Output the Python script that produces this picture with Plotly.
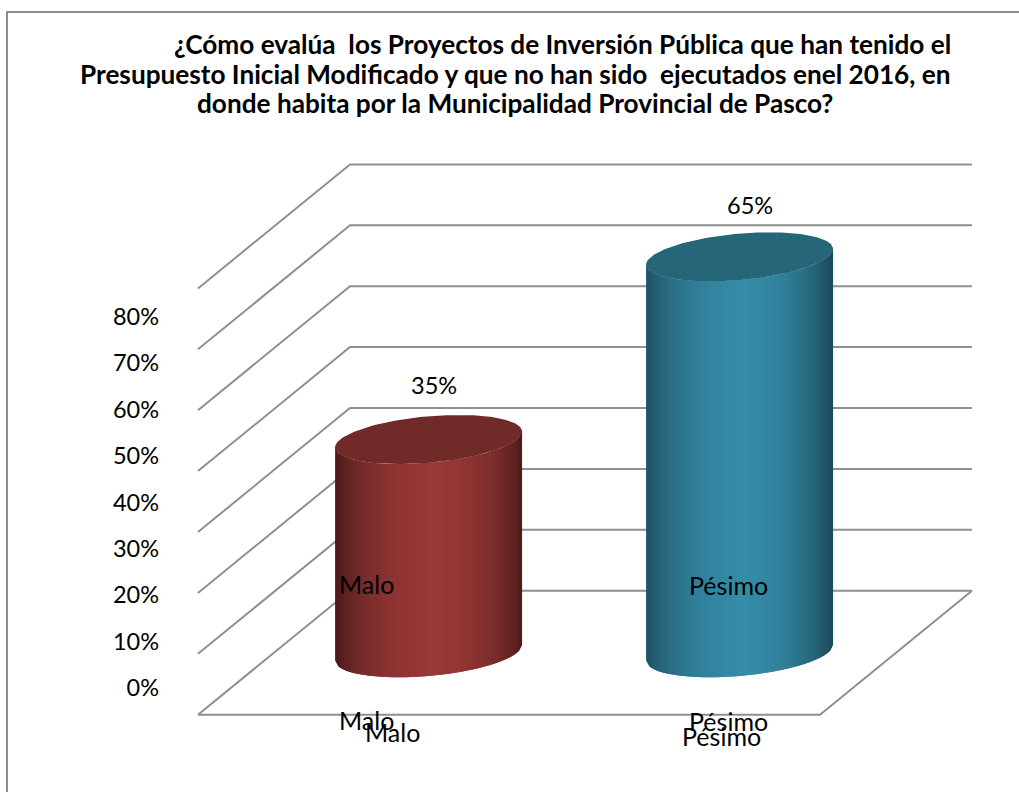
import numpy as np
import plotly.graph_objects as go

# ---- data ----
categories = ["Malo", "Pésimo"]
values = [35, 65]
value_labels = ["35%", "65%"]
grid_values = [0, 10, 20, 30, 40, 50, 60, 70]
tick_values = [0, 10, 20, 30, 40, 50, 60, 70, 80]
tick_labels = ["0%", "10%", "20%", "30%", "40%", "50%", "60%", "70%", "80%"]
title_lines = [
    "¿Cómo evalúa  los Proyectos de Inversión Pública que han tenido el",
    "Presupuesto Inicial Modificado y que no han sido  ejecutados enel 2016, en",
    "donde habita por la Municipalidad Provincial de Pasco?",
]

# ---- layout constants ----
W, H = 1019, 792
FONT = "Lato"
GRID = "#8f8f8f"
X0_PX, CAT_PX = 198.0, 311.0      # pixel of x=0, pixels per category
Y0_PX, PCT_PX = 714.7, 6.09       # pixel of y=0, pixels per percent
DX = 152.0 / CAT_PX               # oblique shift for full depth, in x units
DY = 124.0 / PCT_PX               # oblique shift for full depth, in y units
R_X = 88.5 / CAT_PX               # cylinder radius along x
R_D = 0.198                       # cylinder radius along depth
X_RANGE = [-X0_PX / CAT_PX, (W - X0_PX) / CAT_PX]
Y_RANGE = [-(H - Y0_PX) / PCT_PX, Y0_PX / PCT_PX]
TICK0_PX, TICK_PX = 688.0, 4.64   # pixel of tick label 0%, pixels per tick unit


def proj(x, depth, v):
    return x + DX * depth, v + DY * depth


def lerp_colors(stops, t):
    pos = [s[0] for s in stops]
    rgb = np.array([s[1] for s in stops], dtype=float)
    return "rgb(%d,%d,%d)" % tuple(np.interp(t, pos, rgb[:, i]) for i in range(3))


RED = dict(
    side=[(0, (74, 26, 26)), (0.05, (92, 33, 32)), (0.13, (115, 42, 41)), (0.28, (138, 50, 49)),
          (0.52, (155, 58, 57)), (0.72, (142, 52, 51)), (0.88, (118, 43, 42)), (0.96, (96, 34, 33)), (1, (74, 26, 26))],
    top="#702a28",
)
TEAL = dict(
    side=[(0, (30, 82, 100)), (0.05, (36, 95, 115)), (0.13, (42, 110, 133)), (0.28, (49, 128, 155)),
          (0.52, (54, 142, 170)), (0.72, (50, 130, 157)), (0.88, (40, 105, 127)), (0.96, (32, 85, 103)), (1, (28, 72, 88))],
    top="#256678",
)
STYLES = [RED, TEAL]

fig = go.Figure()

# ---- walls and floor, from the value axis ----
gx, gy = [], []
for v in grid_values:
    x1, y1 = proj(0, 1, v)
    x2, y2 = proj(len(categories), 1, v)
    gx += [0, x1, x2, None]
    gy += [v, y1, y2, None]
fx1, fy1 = proj(len(categories), 1, 0)
gx += [0, len(categories), fx1, None]
gy += [0, 0, fy1, None]
fig.add_trace(go.Scatter(x=gx, y=gy, mode="lines", line=dict(color=GRID, width=2),
                         hoverinfo="skip", showlegend=False))

# ---- cylinders ----
for i, (cat, val) in enumerate(zip(categories, values)):
    cx, cv = proj(i + 0.497, 0.5, 0)
    left = np.arctan2(-DX * R_D, -R_X) % (2 * np.pi)
    t = np.linspace(left, left + np.pi, 241)
    ex = cx + R_X * np.cos(t) + DX * R_D * np.sin(t)
    ev = cv + DY * R_D * np.sin(t)
    n = 60
    edges = np.linspace(ex[0], ex[-1], n + 1)
    order = np.argsort(ex)
    bot = np.interp(edges, ex[order], ev[order])
    for k in range(n):
        j = min(k + 2, n)
        idx = list(range(k, j + 1))
        sx = [edges[m] for m in idx] + [edges[m] for m in reversed(idx)]
        sy = [bot[m] + val for m in idx] + [bot[m] for m in reversed(idx)]
        col = lerp_colors(STYLES[i]["side"], (k + 0.5) / n)
        fig.add_trace(go.Scatter(x=sx, y=sy, mode="lines", fill="toself", fillcolor=col,
                                 line=dict(width=0, color=col), hoverinfo="skip", showlegend=False))
    tt = np.linspace(0, 2 * np.pi, 181)
    fig.add_trace(go.Scatter(
        x=cx + R_X * np.cos(tt) + DX * R_D * np.sin(tt),
        y=cv + val + DY * R_D * np.sin(tt),
        mode="lines", fill="toself", fillcolor=STYLES[i]["top"],
        line=dict(width=0, color=STYLES[i]["top"]), hoverinfo="skip", showlegend=False))

# carrier of the value-axis tick labels
fig.add_trace(go.Scatter(x=[0] * len(tick_values), y=tick_values, yaxis="y2", mode="markers",
                         marker=dict(opacity=0), hoverinfo="skip", showlegend=False))


def note(px, py, text, size=25, bold=False):
    fig.add_annotation(xref="paper", yref="paper", x=px / W, y=1 - py / H, text=f"<b>{text}</b>" if bold else text,
                       showarrow=False, xanchor="center", yanchor="middle",
                       font=dict(family=FONT, size=size, color="#000000"))


# ---- text ----
note(562, 44, title_lines[0].replace("  ", "&nbsp; "), size=26.2, bold=True)
note(515, 74, title_lines[1].replace("  ", "&nbsp; "), size=26.2, bold=True)
note(515, 103, title_lines[2], size=26.2, bold=True)

note(434, 385, value_labels[0], size=23.5)
note(750, 205, value_labels[1], size=23.5)

note(366, 584, categories[0])
note(366, 720, categories[0])
note(392, 732, categories[0])
note(728, 585, categories[1])
note(728, 721, categories[1])
note(721, 736, categories[1])

# ---- frame ----
fig.add_shape(type="path", xref="paper", yref="paper",
              path=f"M {7/W} 0 L {7/W} {1-12/H} L 1 {1-12/H}",
              line=dict(color="#8c8c8c", width=2))

fig.update_layout(
    width=W, height=H, margin=dict(l=0, r=0, t=0, b=0),
    paper_bgcolor="#ffffff", plot_bgcolor="#ffffff", showlegend=False,
    xaxis=dict(range=X_RANGE, visible=False, domain=[0, 1], fixedrange=True),
    yaxis=dict(range=Y_RANGE, visible=False, domain=[0, 1], fixedrange=True),
    yaxis2=dict(
        overlaying="y", anchor="free", position=159 / W, side="left",
        range=[-(H - TICK0_PX) / TICK_PX, TICK0_PX / TICK_PX],
        tickvals=tick_values, ticktext=tick_labels,
        tickfont=dict(family=FONT, size=23.5, color="#000000"),
        showgrid=False, zeroline=False, showline=False, ticks="", fixedrange=True,
    ),
)

fig.write_html("out.html", config={"displayModeBar": False},
               post_script="document.body.style.margin='0';document.body.style.overflow='hidden';")
